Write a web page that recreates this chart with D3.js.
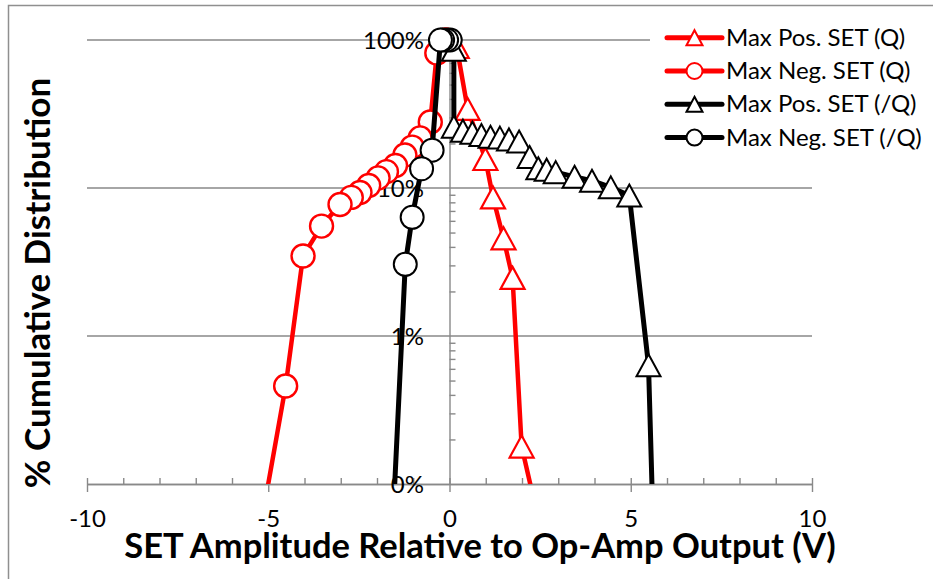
<!DOCTYPE html>
<html><head><meta charset="utf-8">
<script src="https://cdn.jsdelivr.net/npm/d3@7"></script>
<style>
body{margin:0;background:#fff}
svg{display:block}
text{font-family:Lato, "Open Sans", sans-serif;fill:#000}
</style>
</head><body>
<svg id="chart" width="933" height="579"></svg>
<script>
// ---- data (x = SET amplitude in V, y = cumulative %) ----
const seriesNames = ["Max Pos. SET (Q)", "Max Neg. SET (Q)", "Max Pos. SET (/Q)", "Max Neg. SET (/Q)"];

const posQ_x = [0.20, 0.50, 0.99, 1.20, 1.49, 1.74, 1.99, 2.51];
const posQ_y = [89.7, 34.2, 15.7, 8.63, 4.57, 2.47, 0.179, 0.05];

const negQ_x = [-0.10, -0.35, -0.53, -0.81, -1.03, -1.23, -1.49, -1.74, -1.97, -2.23, -2.47, -2.71, -3.02, -3.53, -4.04, -4.52, -5.22];
const negQ_y = [100, 81.6, 27.9, 21.8, 18.9, 16.7, 14.2, 12.9, 11.7, 10.4, 9.33, 8.64, 7.74, 5.53, 3.47, 0.459, 0.05];

const posQb_x = [0.12, 0.12, 0.37, 0.63, 0.88, 1.13, 1.39, 1.64, 1.92, 2.21, 2.45, 2.68, 2.93, 3.45, 3.93, 4.45, 4.96, 5.49, 5.62];
const posQb_y = [86, 25.9, 24.4, 23.6, 22.8, 22.2, 21.9, 21.3, 20.6, 16.2, 13.6, 13.3, 12.8, 11.9, 11.2, 10.1, 8.89, 0.634, 0.05];

const negQb_x = [0.02, -0.08, -0.19, -0.25, -0.48, -0.77, -1.03, -1.22, -1.57];
const negQb_y = [100, 100, 100, 100, 18.0, 13.5, 6.34, 3.05, 0.05];

const xTickValues = [-10, -5, 0, 5, 10];
const xTickLabels = ["-10", "-5", "0", "5", "10"];
const yTickValues = [0.1, 1, 10, 100];
const yTickLabels = ["0%", "1%", "10%", "100%"];
const xTitle = "SET Amplitude Relative to Op-Amp Output (V)";
const yTitle = "% Cumulative Distribution";

// ---- styles ----
const colors = ["#ff0000", "#ff0000", "#000000", "#000000"];
const shapes = ["tri", "circ", "tri", "circ"];
const lineW = [4.5, 4.5, 5, 5];
const axisGray = "#898989";

const svg = d3.select("#chart");
const x = d3.scaleLinear().domain([-10, 10]).range([87, 812]);
const y = d3.scaleLog().domain([0.1, 100]).range([484, 40]);

// outer border
svg.append("rect").attr("x", 8.5).attr("y", 5.5).attr("width", 1000).attr("height", 1000)
  .attr("fill", "none").attr("stroke", "#8f8f8f").attr("stroke-width", 1.5);

// gridlines
svg.append("g").selectAll("line").data(yTickValues.slice(1)).join("line")
  .attr("x1", x(-10)).attr("x2", x(10))
  .attr("y1", d => y(d)).attr("y2", d => y(d))
  .attr("stroke", axisGray).attr("stroke-width", 1.4);

// x axis: major ticks (crossing) + minor ticks (inside)
const xMinor = d3.range(-9, 10).filter(v => v % 5 !== 0);
const gxMinor = svg.append("g").attr("transform", `translate(0,${y(0.1)})`)
  .call(d3.axisBottom(x).tickValues(xMinor).tickSize(-6).tickSizeOuter(0).tickFormat(""));
gxMinor.selectAll(".tick text").remove();
const gx = svg.append("g").attr("transform", `translate(0,${y(0.1)})`)
  .call(d3.axisBottom(x).tickValues(xTickValues).tickSize(8).tickSizeOuter(0)
    .tickFormat((d, i) => xTickLabels[i]));
gx.selectAll(".tick line").attr("y1", -6).attr("y2", 8);
gx.selectAll(".tick text").attr("y", 43).attr("dy", 0)
  .style("font-size", "24px").style("font-family", "Lato");
[gx, gxMinor].forEach(g => {
  g.selectAll("line,path").attr("stroke", axisGray).attr("stroke-width", 1.4);
});

// y axis at x = 0
const yMinor = [];
[0.1, 1, 10].forEach(d => { for (let k = 2; k <= 9; k++) yMinor.push(d * k); });
const gyMinor = svg.append("g").attr("transform", `translate(${x(0)},0)`)
  .call(d3.axisRight(y).tickValues(yMinor).tickSize(6).tickSizeOuter(0).tickFormat(""));
gyMinor.selectAll(".tick text").remove();
const gy = svg.append("g").attr("transform", `translate(${x(0)},0)`)
  .call(d3.axisLeft(y).tickValues(yTickValues).tickSize(0).tickPadding(25.5)
    .tickFormat((d, i) => yTickLabels[i]));
gy.select(".domain").remove();
gy.selectAll(".tick text").attr("dy", "0.35em").style("font-size", "24px").style("font-family", "Lato");
gyMinor.selectAll("line,path").attr("stroke", axisGray).attr("stroke-width", 1.4);

// series
const clip = svg.append("clipPath").attr("id", "plotclip");
clip.append("rect").attr("x", 0).attr("y", 0).attr("width", 933).attr("height", y(0.1));

const seriesData = [
  d3.zip(posQ_x, posQ_y),
  d3.zip(negQ_x, negQ_y),
  d3.zip(posQb_x, posQb_y),
  d3.zip(negQb_x, negQb_y)
];
const line = d3.line().x(d => x(d[0])).y(d => y(d[1]));
const triPath = (w, h) => `M0,${-h / 2}L${w / 2},${h / 2}L${-w / 2},${h / 2}Z`;

const plot = svg.append("g").attr("clip-path", "url(#plotclip)");
seriesData.forEach((data, i) => {
  const g = plot.append("g");
  g.append("path").datum(data).attr("d", line)
    .attr("fill", "none").attr("stroke", colors[i]).attr("stroke-width", lineW[i])
    .attr("stroke-linejoin", "round");
  const pts = data.filter(d => d[1] >= y.domain()[0]);
  if (shapes[i] === "circ") {
    g.selectAll("circle").data(pts).join("circle")
      .attr("cx", d => x(d[0])).attr("cy", d => y(d[1])).attr("r", 11.5)
      .attr("fill", "#fff").attr("stroke", colors[i]).attr("stroke-width", i === 1 ? 2.4 : 2);
  } else {
    g.selectAll("path.m").data(pts).join("path").attr("class", "m")
      .attr("transform", d => `translate(${x(d[0])},${y(d[1])})`)
      .attr("d", triPath(24, 22))
      .attr("fill", "#fff").attr("stroke", colors[i]).attr("stroke-width", i === 0 ? 2.2 : 2)
      .attr("stroke-linejoin", "miter");
  }
});

// legend
const lg = svg.append("g");
lg.append("rect").attr("x", 650).attr("y", 17).attr("width", 280).attr("height", 140).attr("fill", "#fff");
seriesNames.forEach((name, i) => {
  const cy = 37.7 + i * 33.3;
  const row = lg.append("g");
  row.append("line").attr("x1", 667).attr("x2", 722).attr("y1", cy).attr("y2", cy)
    .attr("stroke", colors[i]).attr("stroke-width", 5).attr("stroke-linecap", "round");
  if (shapes[i] === "circ") {
    row.append("circle").attr("cx", 694.5).attr("cy", cy).attr("r", 8)
      .attr("fill", "#fff").attr("stroke", colors[i]).attr("stroke-width", 2);
  } else {
    row.append("path").attr("transform", `translate(694.5,${cy})`).attr("d", triPath(16, 15))
      .attr("fill", "#fff").attr("stroke", colors[i]).attr("stroke-width", 2);
  }
  row.append("text").attr("x", 726).attr("y", cy + 8).style("font-size", "24px").text(name);
});

// axis titles
svg.append("text").attr("x", 480).attr("y", 558).attr("text-anchor", "middle")
  .style("font-size", "34.5px").style("font-weight", "bold").text(xTitle);
svg.append("text").attr("transform", "translate(50,283) rotate(-90)").attr("text-anchor", "middle")
  .style("font-size", "35px").style("font-weight", "bold").text(yTitle);
</script>
</body></html>
